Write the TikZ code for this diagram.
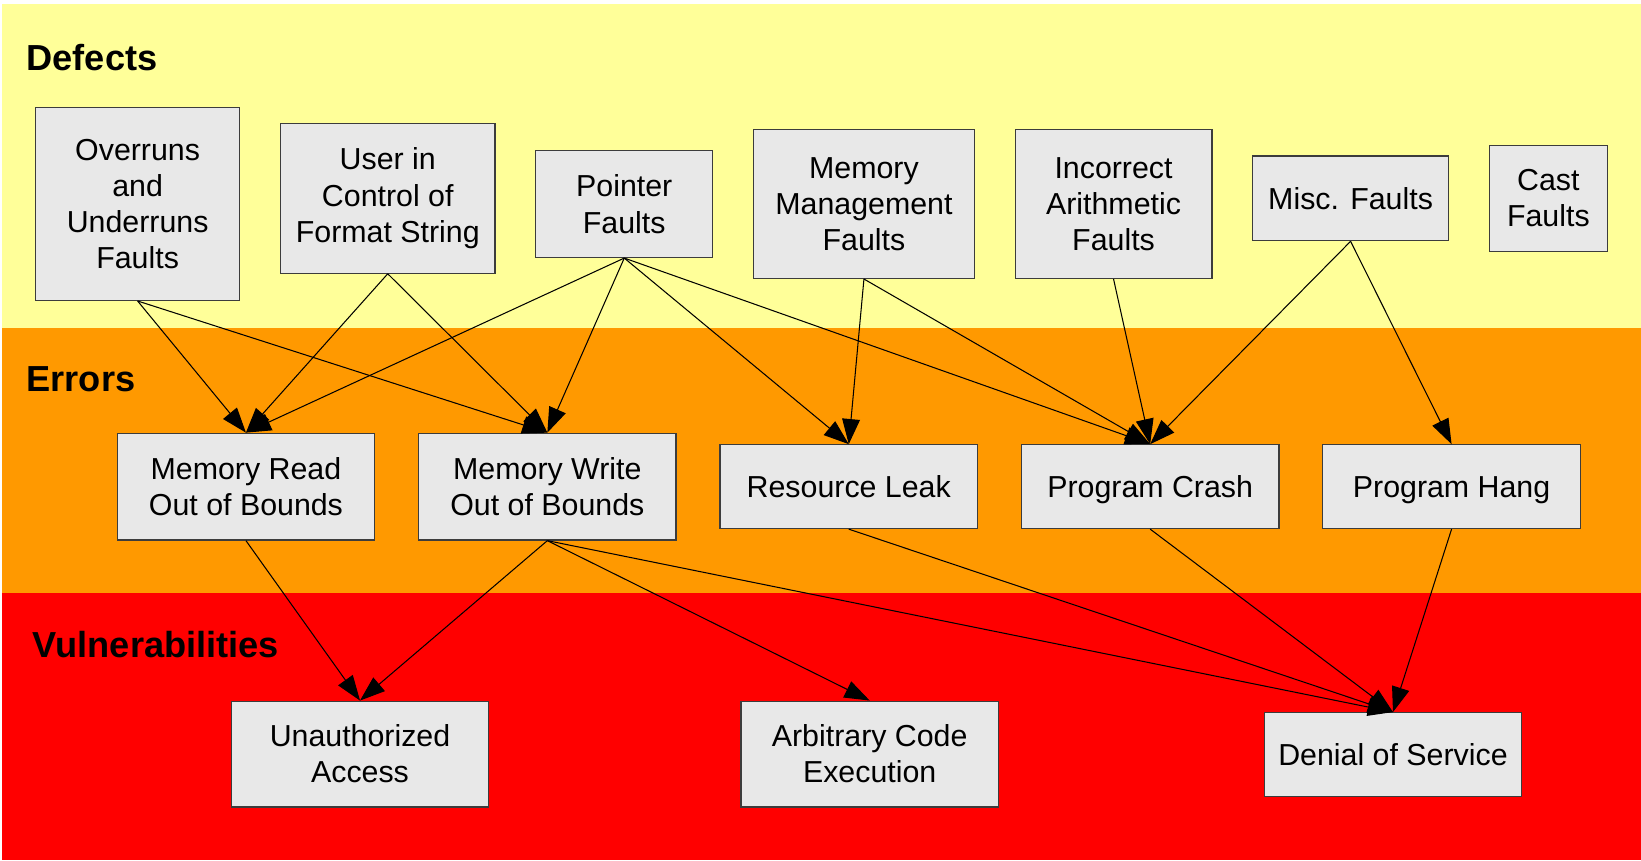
\documentclass[tikz,border=0pt]{standalone}
\usepackage{fontspec}
\setmainfont{Liberation Sans}
\usetikzlibrary{arrows.meta}
\definecolor{yel}{HTML}{FFFF99}
\definecolor{org}{HTML}{FF9900}
\definecolor{rd}{HTML}{FF0000}
\definecolor{boxfill}{HTML}{E8E8E8}
\definecolor{boxline}{HTML}{3C3C3C}
\begin{document}
\begin{tikzpicture}[x=0.5pt,y=-0.5pt,
  box/.style={draw=boxline, fill=boxfill, line width=0.6pt, align=center, inner sep=0pt,
    font=\fontsize{14.5}{17.3}\selectfont},
  hd/.style={anchor=base west, inner sep=0pt, font=\fontsize{17.3}{21}\selectfont\bfseries},
  edge/.style={line width=0.5pt, -{Triangle[length=12pt,width=8.5pt]}}]
\useasboundingbox (0,0) rectangle (1568,822);
\fill[white] (0,0) rectangle (1568,822);
\fill[yel] (2,4) rectangle (1568,313);
\fill[org] (2,313) rectangle (1568,567);
\fill[rd] (2,567) rectangle (1568,822);

% headings
\node[hd] (hdef) at (25,67) {Defects};
\node[hd] (herr) at (25,374) {Errors};
\node[hd] (hvul) at (31,628) {Vulnerabilities};

% defects
\node[box, minimum width=97.5pt, minimum height=92pt] (over) at (131.5,195) {Overruns\\and\\Underruns\\Faults};
\node[box, minimum width=102.5pt, minimum height=71.5pt] (user) at (370.5,189.5) {User in\\Control of\\Format String};
\node[box, minimum width=84.5pt, minimum height=51pt] (ptr) at (596.5,195) {Pointer\\Faults};
\node[box, minimum width=105.5pt, minimum height=71pt] (mem) at (825.5,195) {Memory\\Management\\Faults};
\node[box, minimum width=94pt, minimum height=71pt] (arith) at (1064,195) {Incorrect\\Arithmetic\\Faults};
\node[box, minimum width=93.5pt, minimum height=40.5pt] (misc) at (1290.5,189.5) {Misc. Faults};
\node[box, minimum width=56.5pt, minimum height=50.5pt] (cast) at (1479.5,189.5) {Cast\\Faults};

% errors
\node[box, minimum width=123pt, minimum height=51pt] (mr) at (235,465) {Memory Read\\Out of Bounds};
\node[box, minimum width=123pt, minimum height=51pt] (mw) at (523,465) {Memory Write\\Out of Bounds};
\node[box, minimum width=123pt, minimum height=40pt] (leak) at (811,465) {Resource Leak};
\node[box, minimum width=123pt, minimum height=40pt, text depth=0pt] (crash) at (1099,465) {Program Crash};
\node[box, minimum width=123pt, minimum height=40pt, text depth=0pt] (hang) at (1387,465) {Program Hang};

% vulnerabilities
\node[box, minimum width=123pt, minimum height=50.5pt] (ua) at (344,720.5) {Unauthorized\\Access};
\node[box, minimum width=123pt, minimum height=50.5pt] (ace) at (831,720.5) {Arbitrary Code\\Execution};
\node[box, minimum width=123pt, minimum height=40pt] (dos) at (1331,721) {Denial of Service};

% edges
\draw[edge] (over.south) -- (mr.north);
\draw[edge] (over.south) -- (mw.north);
\draw[edge] (user.south) -- (mr.north);
\draw[edge] (user.south) -- (mw.north);
\draw[edge] (ptr.south) -- (mr.north);
\draw[edge] (ptr.south) -- (mw.north);
\draw[edge] (ptr.south) -- (leak.north);
\draw[edge] (ptr.south) -- (crash.north);
\draw[edge] (mem.south) -- (leak.north);
\draw[edge] (mem.south) -- (crash.north);
\draw[edge] (arith.south) -- (crash.north);
\draw[edge] (misc.south) -- (crash.north);
\draw[edge] (misc.south) -- (hang.north);
\draw[edge] (mr.south) -- (ua.north);
\draw[edge] (mw.south) -- (ua.north);
\draw[edge] (mw.south) -- (ace.north);
\draw[edge] (mw.south) -- (dos.north);
\draw[edge] (leak.south) -- (dos.north);
\draw[edge] (crash.south) -- (dos.north);
\draw[edge] (hang.south) -- (dos.north);
\end{tikzpicture}
\end{document}
